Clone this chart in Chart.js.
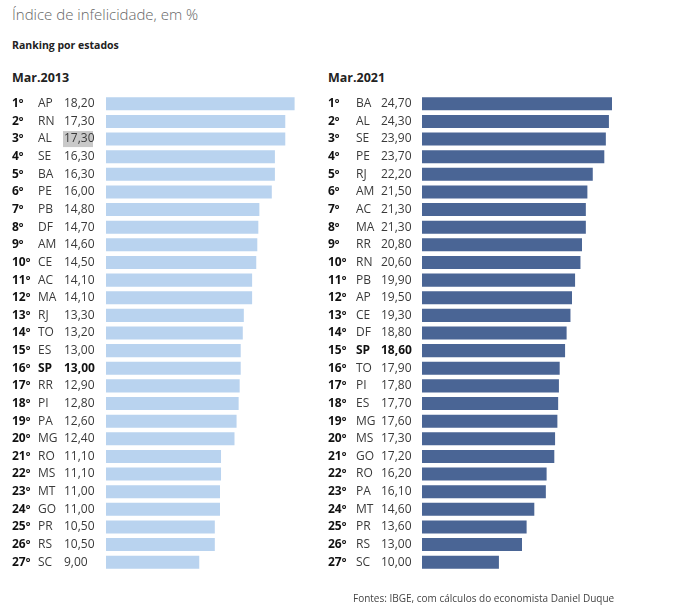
<!DOCTYPE html>
<html>
<head>
<meta charset="utf-8">
<script src="https://cdn.jsdelivr.net/npm/chart.js@4"></script>
<style>
  body { margin: 0; background: #fff; font-family: 'Open Sans', sans-serif; }
  #wrap { position: relative; width: 675px; height: 610px; overflow: hidden; }
  .title { position: absolute; left: 12px; top: 4px; font-size: 15px; color: #666; font-weight: 300; }
  .sub { position: absolute; left: 12px; top: 38px; font-size: 10.5px; font-weight: 700; color: #222; }
  .period { position: absolute; top: 69px; font-size: 12.5px; font-weight: 700; color: #222; }
  .source { position: absolute; left: 353px; top: 591px; font-size: 10px; color: #444; }
  canvas { position: absolute; top: 0; }
</style>
</head>
<body>
<div id="wrap">
  <div class="title">Índice de infelicidade, em %</div>
  <div class="sub">Ranking por estados</div>
  <div class="period" style="left:12px">Mar.2013</div>
  <div class="period" style="left:328px">Mar.2021</div>
  <canvas id="chart2013" width="320" height="610" style="left:0"></canvas>
  <canvas id="chart2021" width="320" height="610" style="left:316px"></canvas>
  <div class="source">Fontes: IBGE, com cálculos do economista Daniel Duque</div>
</div>
<script>
const ranks = ['1º', '2º', '3º', '4º', '5º', '6º', '7º', '8º', '9º', '10º', '11º', '12º', '13º', '14º',
  '15º', '16º', '17º', '18º', '19º', '20º', '21º', '22º', '23º', '24º', '25º', '26º', '27º']

const states2013 = ['AP', 'RN', 'AL', 'SE', 'BA', 'PE', 'PB', 'DF', 'AM', 'CE', 'AC', 'MA', 'RJ', 'TO',
  'ES', 'SP', 'RR', 'PI', 'PA', 'MG', 'RO', 'MS', 'MT', 'GO', 'PR', 'RS', 'SC']
const values2013 = [18.2, 17.3, 17.3, 16.3, 16.3, 16.0, 14.8, 14.7, 14.6, 14.5, 14.1, 14.1, 13.3, 13.2,
  13.0, 13.0, 12.9, 12.8, 12.6, 12.4, 11.1, 11.1, 11.0, 11.0, 10.5, 10.5, 9.0]

const states2021 = ['BA', 'AL', 'SE', 'PE', 'RJ', 'AM', 'AC', 'MA', 'RR', 'RN', 'PB', 'AP', 'CE', 'DF',
  'SP', 'TO', 'PI', 'ES', 'MG', 'MS', 'GO', 'RO', 'PA', 'MT', 'PR', 'RS', 'SC']
const values2021 = [24.7, 24.3, 23.9, 23.7, 22.2, 21.5, 21.3, 21.3, 20.8, 20.6, 19.9, 19.5, 19.3, 18.8,
  18.6, 17.9, 17.8, 17.7, 17.6, 17.3, 17.2, 16.2, 16.1, 14.6, 13.6, 13.0, 10.0]

const boldState = 'SP'
const highlight2013 = 2

const fmt = v => v.toFixed(2).replace('.', ',')

const rowLabels = {
  id: 'rowLabels',
  afterDatasetsDraw(chart, args, opts) {
    const { ctx, scales } = chart
    ctx.save()
    ctx.textBaseline = 'middle'
    opts.states.forEach((st, i) => {
      const y = scales.y.getPixelForValue(i)
      const strong = st === boldState
      if (i === opts.highlight) {
        ctx.fillStyle = '#c9c9c9'
        ctx.fillRect(opts.x[2] - 1, y - 8, 30, 16)
      }
      ctx.fillStyle = '#111'
      ctx.font = '700 12px "Open Sans"'
      ctx.fillText(ranks[i], opts.x[0], y)
      ctx.fillStyle = strong ? '#111' : '#3a3a3a'
      ctx.font = (strong ? '700 ' : '400 ') + '12px "Open Sans"'
      ctx.fillText(st, opts.x[1], y)
      ctx.fillText(fmt(opts.values[i]), opts.x[2], y)
    })
    ctx.restore()
  }
}

function createRankingChart(canvasId, states, values, color, xMax, labelX, highlight) {
  const ctx = document.getElementById(canvasId).getContext('2d')
  return new Chart(ctx, {
    type: 'bar',
    data: {
      labels: states,
      datasets: [
        {
          data: values,
          backgroundColor: color,
          borderWidth: 0,
          barPercentage: 0.74,
          categoryPercentage: 1
        }
      ]
    },
    options: {
      indexAxis: 'y',
      responsive: false,
      animation: false,
      layout: { padding: { left: 106, right: 14, top: 95, bottom: 39 } },
      scales: {
        x: { display: false, min: 0, max: xMax },
        y: { display: false }
      },
      plugins: {
        legend: { display: false },
        tooltip: { enabled: false },
        rowLabels: { states: states, values: values, x: labelX, highlight: highlight }
      }
    },
    plugins: [rowLabels]
  })
}

createRankingChart('chart2013', states2013, values2013, '#b9d3ef', 19.3, [12, 38, 64], highlight2013)
createRankingChart('chart2021', states2021, values2021, '#4a6595', 26.0, [12, 40, 65], -1)
</script>
</body>
</html>
